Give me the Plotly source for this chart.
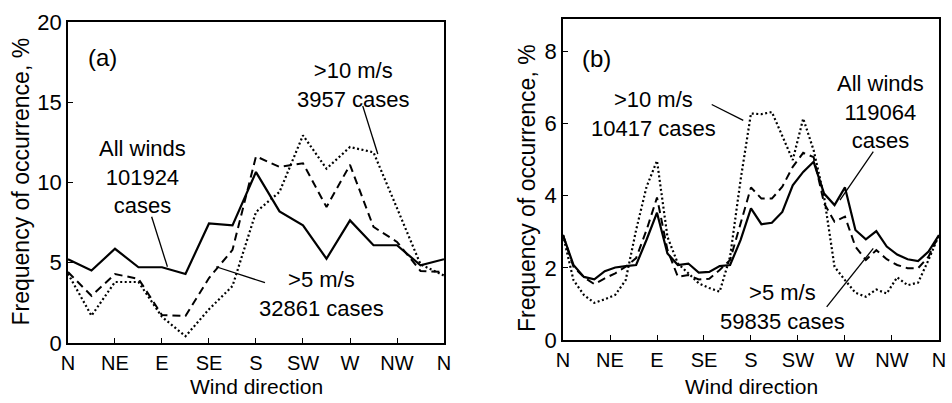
import plotly.graph_objects as go

# ---------------- data ----------------
# Panel (a): 16 sectors (22.5 deg), wrapped back to N
dir_a = [i * 22.5 for i in range(17)]
all_a = [5.22, 4.52, 5.87, 4.72, 4.72, 4.30, 7.45, 7.33, 10.65, 8.20, 7.33, 5.25, 7.64, 6.09, 6.09, 4.84, 5.22]
gt5_a = [4.42, 2.94, 4.29, 4.00, 1.74, 1.68, 4.05, 5.80, 11.63, 10.97, 11.20, 8.47, 11.10, 7.23, 6.30, 4.49, 4.42]
gt10_a = [4.32, 1.70, 3.80, 3.80, 1.63, 0.42, 2.10, 3.55, 8.16, 9.41, 12.94, 10.86, 12.21, 11.88, 8.40, 4.90, 4.20]

# Panel (b): 36 sectors (10 deg), wrapped back to N
dir_b = [i * 10 for i in range(37)]
all_b = [2.91, 2.08, 1.75, 1.68, 1.91, 2.01, 2.05, 2.08, 2.78, 3.53, 2.40, 2.08, 2.12, 1.87, 1.89, 2.05,
         2.08, 2.77, 3.65, 3.21, 3.25, 3.55, 4.29, 4.66, 4.94, 4.06, 3.74, 4.23, 3.05, 2.79, 3.02, 2.59,
         2.37, 2.24, 2.19, 2.45, 2.91]
gt5_b = [2.91, 2.03, 1.74, 1.55, 1.71, 1.85, 2.03, 2.27, 3.05, 3.95, 2.50, 1.75, 1.80, 1.68, 1.70, 1.94,
         2.22, 3.23, 4.23, 3.92, 3.92, 4.25, 4.80, 5.19, 5.07, 3.79, 3.28, 3.42, 2.59, 2.22, 2.49, 2.24,
         2.08, 1.99, 1.99, 2.31, 2.91]
gt10_b = [2.91, 1.66, 1.25, 1.03, 1.13, 1.25, 1.66, 3.05, 4.25, 4.97, 2.86, 2.12, 1.85, 1.57, 1.44, 1.34,
          2.31, 4.43, 6.28, 6.26, 6.32, 5.63, 4.99, 6.14, 5.26, 3.97, 2.03, 1.66, 1.31, 1.20, 1.40, 1.29,
          1.74, 1.52, 1.59, 2.22, 2.91]

tick_vals = [0, 45, 90, 135, 180, 225, 270, 315, 360]
tick_text = ["N", "NE", "E", "SE", "S", "SW", "W", "NW", "N"]

FONT = "Liberation Sans, Arial, sans-serif"
FS = 22

fig = go.Figure()

def add_series(x, ys, xa, ya):
    styles = [("solid", 2.2), ("8px,5px", 2.0), ("2px,2.5px", 2.2)]
    for y, (dash, w) in zip(ys, styles):
        fig.add_trace(go.Scatter(x=x, y=y, mode="lines", xaxis=xa, yaxis=ya,
                                 line=dict(color="black", width=w, dash=dash),
                                 showlegend=False, hoverinfo="skip"))

add_series(dir_a, [all_a, gt5_a, gt10_a], "x", "y")
add_series(dir_b, [all_b, gt5_b, gt10_b], "x2", "y2")

axis_common = dict(showgrid=False, zeroline=False, showline=True, mirror=True,
                   linecolor="black", linewidth=1.5, ticks="inside", ticklen=5,
                   tickwidth=1.2, tickcolor="black", automargin=False)

xtickfont = dict(family=FONT, size=20, color="black")
ytickfont = dict(family=FONT, size=FS, color="black")

fig.update_layout(
    width=952, height=403,
    margin=dict(l=0, r=0, t=0, b=0),
    paper_bgcolor="white", plot_bgcolor="white",
    font=dict(family=FONT, size=FS, color="black"),
    xaxis=dict(domain=[0.0714, 0.4664], range=[0, 360], tickvals=tick_vals, ticktext=tick_text,
               anchor="y", ticklabelstandoff=1, tickfont=xtickfont, **axis_common),
    yaxis=dict(domain=[0.1489, 0.9454], range=[0, 20], tickvals=[0, 5, 10, 15, 20],
               anchor="x", tickfont=ytickfont, **axis_common),
    xaxis2=dict(domain=[0.5914, 0.9863], range=[0, 360], tickvals=tick_vals, ticktext=tick_text,
                anchor="y2", ticklabelstandoff=1, tickfont=xtickfont, **axis_common),
    yaxis2=dict(domain=[0.1563, 0.9529], range=[0, 8.9], tickvals=[0, 2, 4, 6, 8],
                anchor="x2", tickfont=ytickfont, **axis_common),
)

# axis titles
titles = [
    (256.0 / 952, (403 - 386) / 403, "Wind direction", 0, 21),
    (751.0 / 952, (403 - 386) / 403, "Wind direction", 0, 21),
    (20.0 / 952, (403 - 181.5) / 403, "Frequency of occurrence, %", -90, 23),
    (527.0 / 952, (403 - 188) / 403, "Frequency of occurrence, %", -90, 23),
]
for x, y, t, ang, s in titles:
    fig.add_annotation(x=x, y=y, xref="paper", yref="paper", text=t, showarrow=False,
                       textangle=ang, font=dict(family=FONT, size=s, color="black"),
                       xanchor="center", yanchor="middle")

# text labels
labels = [
    ("x", "y", 33.5, 17.76, "(a)", 24),
    ("x", "y", 71.8, 10.34, "All winds<br>101924<br>cases", FS),
    ("x", "y", 272.9, 16.1, ">10 m/s<br>3957 cases", FS),
    ("x", "y", 242.3, 3.05, ">5 m/s<br>32861 cases", FS),
    ("x2", "y2", 32.3, 7.81, "(b)", 24),
    ("x2", "y2", 86.6, 6.27, ">10 m/s<br>10417 cases", FS),
    ("x2", "y2", 304.0, 6.33, "All winds<br>119064<br>cases", FS),
    ("x2", "y2", 210.6, 0.91, ">5 m/s<br>59835 cases", FS),
]
for xr, yr, x, y, t, s in labels:
    fig.add_annotation(x=x, y=y, xref=xr, yref=yr, text=t, showarrow=False,
                       font=dict(family=FONT, size=s, color="black"),
                       xanchor="center", yanchor="middle", align="center")

# leader lines
leaders = [
    ("x", "y", 80.1, 7.87, 95.2, 4.75),
    ("x", "y", 282.2, 14.77, 296.6, 11.78),
    ("x", "y", 188.6, 3.76, 141.8, 4.75),
    ("x2", "y2", 142.4, 6.53, 172.6, 6.09),
    ("x2", "y2", 297.1, 5.22, 265.2, 3.88),
    ("x2", "y2", 252.5, 0.92, 297.1, 2.54),
]
for xr, yr, x0, y0, x1, y1 in leaders:
    fig.add_shape(type="line", xref=xr, yref=yr, x0=x0, y0=y0, x1=x1, y1=y1,
                  line=dict(color="black", width=1.3))

fig.write_html("out.html", config={"displayModeBar": False},
               post_script="document.body.style.margin='0';document.body.style.overflow='hidden';")
